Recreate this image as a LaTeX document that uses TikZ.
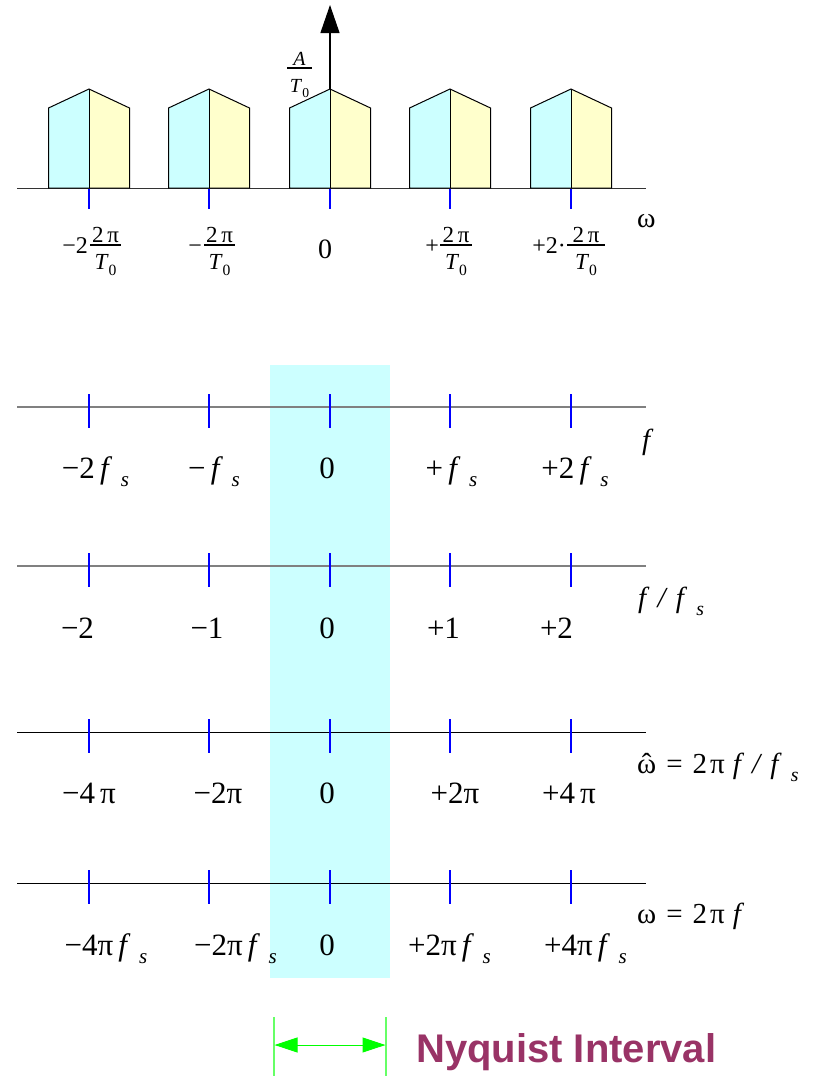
\documentclass[tikz,border=0pt]{standalone}
\usepackage{fontspec}
\setmainfont{Liberation Serif}
\newfontfamily\nyqfont{Liberation Sans}
\usepackage{graphicx}
\usetikzlibrary{arrows.meta}
\definecolor{pcyan}{HTML}{CCFFFF}
\definecolor{pyellow}{HTML}{FFFFCC}
\definecolor{nyqcol}{HTML}{993366}
\definecolor{lgreen}{HTML}{66FF66}
\definecolor{agreen}{HTML}{00FF00}
\definecolor{tickblue}{HTML}{0000FF}
\definecolor{axgray}{HTML}{808080}
\newcommand\lowsub[1]{\raisebox{-0.28em}{\scalebox{0.68}{#1}}}
\newcommand\fsym{\textit{f}\hspace{0.28em}\lowsub{\textit{s}}}
\newcommand\omhat{{\ooalign{ω\cr\hidewidth ˆ\hidewidth\cr}}}
\newcommand\gap[1]{\hspace{#1pt}}
% fraction: name, cx, bar y, half width, numerator, denominator
\newcommand\myfrac[6]{%
  \node[fracpart, anchor=base] (#1n) at (#2,#3-2.5) {#5};
  \node[fracpart, anchor=base] (#1d) at (#2,#3+24) {#6};
  \draw[line width=1.5] (#2-#4,#3) -- (#2+#4,#3);
}
\begin{document}
\begin{tikzpicture}[x=1pt,y=-1pt,
  pulse/.style={draw=black, line width=1},
  tickline/.style={draw=tickblue, line width=1.1},
  lbl/.style={anchor=base, inner sep=0, font=\fontsize{31}{36}\selectfont},
  toplbl/.style={anchor=base east, inner sep=0, font=\fontsize{24}{28}\selectfont},
  fracpart/.style={inner sep=0, font=\fontsize{23}{27}\selectfont},
  axname/.style={anchor=base west, inner sep=0, font=\fontsize{29}{34}\selectfont},
]
\path[use as bounding box] (0,0) rectangle (816,1076);

% ---------- top spectrum ----------
\coordinate (a0L) at (17,188);
\coordinate (a0R) at (646,188);
\draw[draw=black!80, line width=1] (a0L) -- (a0R);
\foreach \c in {89,209,330,450,571} {
  \fill[pcyan] (\c-40.5,188) -- (\c-40.5,108) -- (\c,89) -- (\c,188) -- cycle;
  \fill[pyellow] (\c,188) -- (\c,89) -- (\c+40.5,108) -- (\c+40.5,188) -- cycle;
  \draw[pulse] (\c-40.5,188) -- (\c-40.5,108) -- (\c,89) -- (\c+40.5,108) -- (\c+40.5,188) -- cycle;
  \draw[pulse] (\c,89) -- (\c,188);
  \draw[tickline] (\c,189) -- (\c,209);
}
\coordinate (vbot) at (330,89);
\coordinate (vtop) at (330,5);
\draw[line width=1.1, -{Triangle[length=28pt,width=19pt]}] (vbot) -- (vtop);

% A/T0
\begin{scope}[fracpart/.style={inner sep=0, font=\fontsize{20}{24}\selectfont}]
\myfrac{amp}{299.5}{68}{12.5}{\textit{A}}{\textit{T}\lowsub{0}}
\end{scope}

% labels under pulses
\node[toplbl] (t1) at (88,253) {−2};
\myfrac{f1}{105.5}{245}{15.5}{2\,π}{\textit{T}\lowsub{0}}
\node[toplbl] (t2) at (202,253) {−};
\myfrac{f2}{219.5}{245}{15.5}{2\,π}{\textit{T}\lowsub{0}}
\node[anchor=base, inner sep=0, font=\fontsize{28}{32}\selectfont] (t3) at (325,258) {0};
\node[toplbl] (t4) at (439,253) {+};
\myfrac{f4}{456}{245}{16}{2\,π}{\textit{T}\lowsub{0}}
\node[toplbl] (t5) at (566,253) {+2·};
\myfrac{f5}{586}{245}{19}{2\,π}{\textit{T}\lowsub{0}}
\node[axname, font=\fontsize{28}{32}\selectfont] (omega) at (637,227) {ω};

% ---------- Nyquist band ----------
\fill[pcyan] (270,365) rectangle (390,978);

% axes
\foreach \y/\col/\w [count=\k] in {407/axgray/1.7, 566/axgray/1.7, 732/black/1, 883/black/1} {
  \coordinate (L\k) at (17,\y);
  \coordinate (R\k) at (646,\y);
  \draw[draw=\col, line width=\w] (L\k) -- (R\k);
  \foreach \c in {89,209,330,450,571} {
    \draw[tickline] (\c,\y-13) -- (\c,\y+21);
  }
}

% row 1: f
\node[lbl] (r1a) at (95.5,478) {−2\,\fsym};
\node[lbl] (r1b) at (214,478) {−\,\fsym};
\node[lbl] (r1c) at (327,478) {0};
\node[lbl] (r1d) at (451.5,478) {+\,\fsym};
\node[lbl] (r1e) at (575,478) {+2\,\fsym};
\node[axname] (n1) at (642,449) {\textit{f}};

% row 2: f/fs
\node[lbl] (r2a) at (77.5,638) {−2};
\node[lbl] (r2b) at (207,638) {−1};
\node[lbl] (r2c) at (327,638) {0};
\node[lbl] (r2d) at (443.5,638) {+1};
\node[lbl] (r2e) at (556.5,638) {+2};
\node[axname] (n2) at (638,607) {\textit{f}\gap{8}\textit{/}\gap{8}\textit{f}\gap{9}\lowsub{\textit{s}}};

% row 3: omega hat
\node[lbl] (r3a) at (89,803) {−4\,π};
\node[lbl] (r3b) at (218,803) {−2π};
\node[lbl] (r3c) at (327,803) {0};
\node[lbl] (r3d) at (455,803) {+2π};
\node[lbl] (r3e) at (569,803) {+4\,π};
\node[axname] (n3) at (637,773) {\omhat\gap{10}=\gap{10}2\gap{3}π\gap{8}\textit{f}\gap{8}\textit{/}\gap{8}\textit{f}\gap{9}\lowsub{\textit{s}}};

% row 4: omega
\node[lbl] (r4a) at (106,955) {−4π\,\fsym};
\node[lbl] (r4b) at (235.5,955) {−2π\,\fsym};
\node[lbl] (r4c) at (327,955) {0};
\node[lbl] (r4d) at (449.5,955) {+2π\,\fsym};
\node[lbl] (r4e) at (585.5,955) {+4π\,\fsym};
\node[axname] (n4) at (637,923) {ω\gap{10}=\gap{10}2\gap{3}π\gap{8}\textit{f}};

% ---------- Nyquist interval ----------
\coordinate (gl1) at (274,1017);
\coordinate (gl2) at (274,1076);
\coordinate (gr1) at (386,1017);
\coordinate (gr2) at (386,1076);
\draw[draw=lgreen, line width=1.5] (gl1) -- (gl2);
\draw[draw=lgreen, line width=1.5] (gr1) -- (gr2);
\coordinate (al) at (274.5,1045);
\coordinate (ar) at (385.5,1045);
\draw[draw=agreen, line width=1, {Triangle[length=23pt,width=15pt]}-{Triangle[length=23pt,width=15pt]}] (al) -- (ar);
\node[anchor=base west, inner sep=0, text=nyqcol, font=\nyqfont\bfseries\fontsize{40}{46}\selectfont] (nyq) at (416,1062) {Nyquist Interval};
\end{tikzpicture}
\end{document}
